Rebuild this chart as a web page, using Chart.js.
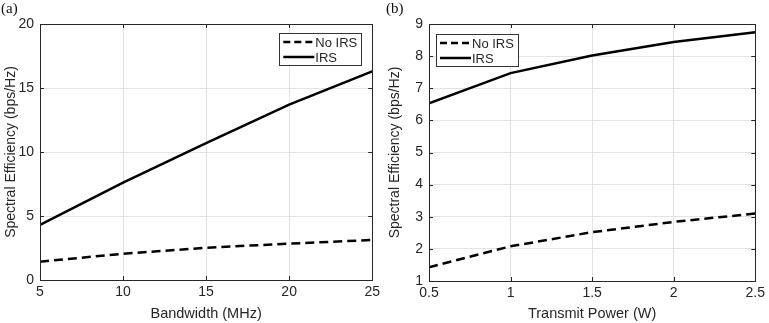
<!DOCTYPE html>
<html>
<head>
<meta charset="utf-8">
<script src="https://cdn.jsdelivr.net/npm/chart.js@4.4.0/dist/chart.umd.min.js"></script>
<style>
  html, body { margin: 0; padding: 0; background: #fff; }
  #wrap { position: relative; width: 769px; height: 323px; overflow: hidden; }
  .panel { position: absolute; top: 0; height: 323px; }
  .tag { position: absolute; top: 0; font: 15px "Liberation Serif", "Times New Roman", serif; color: #111; }
</style>
</head>
<body>
<div id="wrap">
  <div class="panel" style="left:0;width:384px;"><canvas id="chartA" width="384" height="323"></canvas></div>
  <div class="panel" style="left:384px;width:385px;"><canvas id="chartB" width="385" height="323"></canvas></div>
  <div class="tag" style="left:1px;">(a)</div>
  <div class="tag" style="left:386px;">(b)</div>
</div>
<script>
// panel (a): spectral efficiency vs bandwidth
const bandwidth = [5, 10, 15, 20, 25];
const noIrsA = [1.43, 2.05, 2.52, 2.84, 3.13];
const irsA = [4.3, 7.6, 10.7, 13.7, 16.3];

// panel (b): spectral efficiency vs transmit power
const power = [0.5, 1, 1.5, 2, 2.5];
const noIrsB = [1.43, 2.08, 2.52, 2.84, 3.1];
const irsB = [6.53, 7.47, 8.02, 8.44, 8.74];

const FONT = "'Liberation Sans', Arial, sans-serif";
const TXT = "#262626";

function pts(xs, ys) {
    return xs.map(function (x, i) { return { x: x, y: ys[i] }; });
}

// box + inward ticks, MATLAB style
const boxPlugin = {
    id: "box",
    afterDraw: function (chart) {
        const ctx = chart.ctx;
        const a = chart.chartArea;
        const xs = chart.scales.x, ys = chart.scales.y;
        ctx.save();
        ctx.strokeStyle = TXT;
        ctx.lineWidth = 1;
        ctx.beginPath();
        xs.ticks.forEach(function (t) {
            const px = Math.round(xs.getPixelForValue(t.value)) + 0.5;
            ctx.moveTo(px, a.bottom); ctx.lineTo(px, a.bottom - 4);
            ctx.moveTo(px, a.top); ctx.lineTo(px, a.top + 4);
        });
        ys.ticks.forEach(function (t) {
            const py = Math.round(ys.getPixelForValue(t.value)) + 0.5;
            ctx.moveTo(a.left, py); ctx.lineTo(a.left + 4, py);
            ctx.moveTo(a.right, py); ctx.lineTo(a.right - 4, py);
        });
        ctx.stroke();
        ctx.strokeRect(Math.round(a.left) + 0.5, Math.round(a.top) + 0.5,
            Math.round(a.right - a.left), Math.round(a.bottom - a.top));
        ctx.restore();
    }
};

// legend box inside the plot area
const legendPlugin = {
    id: "insideLegend",
    afterDraw: function (chart, args, opts) {
        const ctx = chart.ctx;
        const a = chart.chartArea;
        ctx.save();
        ctx.font = "13px " + FONT;
        const sets = chart.data.datasets;
        let tw = 0;
        sets.forEach(function (d) { tw = Math.max(tw, ctx.measureText(d.label).width); });
        const w = 4 + 31 + 1 + tw + 4;
        const h = 32;
        const x0 = opts.align === "right" ? a.right - opts.dx - w : a.left + opts.dx;
        const y0 = a.top + opts.dy;
        ctx.fillStyle = "#fff";
        ctx.fillRect(x0, y0, w, h);
        ctx.strokeStyle = "#333";
        ctx.lineWidth = 1;
        ctx.strokeRect(Math.round(x0) + 0.5, Math.round(y0) + 0.5, Math.round(w), h);
        sets.forEach(function (d, i) {
            const ly = y0 + 9 + i * 15;
            ctx.strokeStyle = d.borderColor;
            ctx.lineWidth = d.borderWidth;
            ctx.setLineDash(d.borderDash ? [7, 4] : []);
            ctx.beginPath();
            ctx.moveTo(x0 + 4, ly);
            ctx.lineTo(x0 + 35, ly);
            ctx.stroke();
            ctx.setLineDash([]);
            ctx.fillStyle = TXT;
            ctx.textBaseline = "middle";
            ctx.fillText(d.label, x0 + 36, ly + 1);
        });
        ctx.restore();
    }
};

function makeChart(id, xs, noIrs, irs, xOpts, yOpts, geo, legendOpts) {
    const ctx = document.getElementById(id).getContext("2d");
    return new Chart(ctx, {
        type: "line",
        data: {
            datasets: [
                {
                    label: "No IRS",
                    data: pts(xs, noIrs),
                    borderColor: "#000",
                    borderWidth: 2.5,
                    borderDash: [9, 5],
                    pointRadius: 0,
                    tension: 0,
                },
                {
                    label: "IRS",
                    data: pts(xs, irs),
                    borderColor: "#000",
                    borderWidth: 2.5,
                    pointRadius: 0,
                    tension: 0,
                },
            ],
        },
        options: {
            responsive: false,
            animation: false,
            layout: { padding: { top: geo.top, right: geo.right, left: 0, bottom: 0 } },
            plugins: {
                legend: { display: false },
                tooltip: { enabled: false },
                insideLegend: legendOpts,
            },
            scales: {
                x: {
                    type: "linear",
                    min: xOpts.min,
                    max: xOpts.max,
                    afterFit: function (s) { s.height = geo.xh; },
                    ticks: {
                        stepSize: xOpts.step,
                        color: TXT,
                        padding: 4,
                        maxRotation: 0,
                        font: { family: FONT, size: 14 },
                        callback: function (v) { return String(v); },
                    },
                    grid: { color: "#e3e3e3", drawTicks: false },
                    border: { display: false },
                    title: {
                        display: true,
                        text: xOpts.title,
                        color: TXT,
                        padding: { top: 2, bottom: 0 },
                        font: { family: FONT, size: 14.5 },
                    },
                },
                y: {
                    min: yOpts.min,
                    max: yOpts.max,
                    afterFit: function (s) { s.width = geo.yw; },
                    ticks: {
                        stepSize: yOpts.step,
                        color: TXT,
                        padding: 6,
                        font: { family: FONT, size: 14 },
                    },
                    grid: { color: "#e3e3e3", drawTicks: false },
                    border: { display: false },
                    title: {
                        display: true,
                        text: "Spectral Efficiency (bps/Hz)",
                        color: TXT,
                        padding: { top: 3, bottom: 0 },
                        font: { family: FONT, size: 14 },
                    },
                },
            },
        },
        plugins: [boxPlugin, legendPlugin],
    });
}

makeChart("chartA", bandwidth, noIrsA, irsA,
    { min: 5, max: 25, step: 5, title: "Bandwidth (MHz)" },
    { min: 0, max: 20, step: 5 },
    { top: 24, right: 10, xh: 43, yw: 40 },
    { align: "right", dx: 11, dy: 9 });

makeChart("chartB", power, noIrsB, irsB,
    { min: 0.5, max: 2.5, step: 0.5, title: "Transmit Power (W)" },
    { min: 1, max: 9, step: 1 },
    { top: 24, right: 8, xh: 42, yw: 45 },
    { align: "left", dx: 7, dy: 10 });
</script>
</body>
</html>
